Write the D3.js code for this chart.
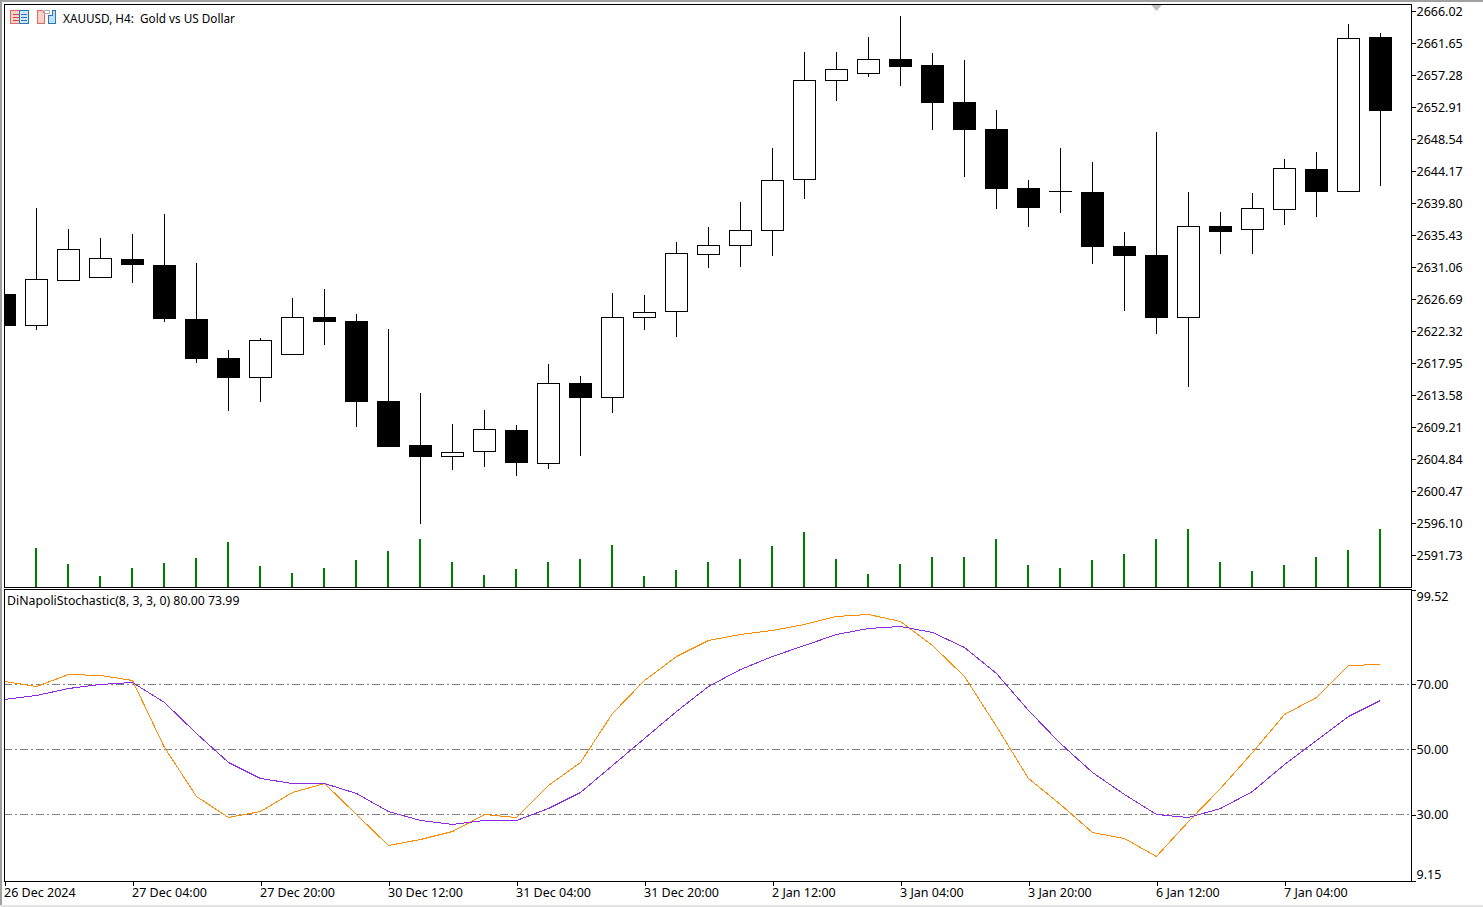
<!DOCTYPE html>
<html>
<head>
<meta charset="utf-8">
<script src="https://cdn.jsdelivr.net/npm/d3@7"></script>
<style>
  html, body { margin: 0; padding: 0; background: #fff; overflow: hidden; }
  svg { display: block; }
  text { font-family: "Noto Sans", sans-serif; font-size: 12.5px; fill: #000; }
</style>
</head>
<body>
<div id="chart"></div>
<script>
let w = 1483;
let h = 907;

// candles, one H4 bar each
let opens = [2627.37,2623.00,2629.15,2629.56,2632.15,2631.33,2623.96,2618.63,2615.90,2619.04,2624.23,2623.68,2612.76,2606.75,2605.11,2605.80,2608.80,2604.16,2615.22,2613.17,2624.09,2624.91,2632.70,2633.93,2635.98,2642.94,2656.46,2657.42,2659.47,2658.65,2653.59,2649.91,2641.85,2641.44,2641.30,2633.93,2632.70,2624.09,2636.66,2636.11,2638.84,2644.44,2641.30,2662.47];
let highs = [2627.37,2639.12,2636.25,2635.02,2635.57,2638.30,2631.61,2619.72,2621.36,2626.82,2628.05,2624.64,2622.59,2613.85,2609.62,2611.53,2609.48,2617.81,2616.17,2627.51,2627.23,2634.47,2636.52,2639.94,2647.31,2660.42,2660.42,2662.47,2665.34,2660.28,2659.33,2652.50,2642.94,2647.31,2645.40,2635.84,2649.50,2641.30,2638.57,2641.16,2645.81,2646.76,2664.24,2663.02];
let lows = [2623.00,2622.46,2629.15,2629.56,2628.87,2623.55,2617.95,2611.39,2612.62,2619.04,2620.41,2609.21,2606.48,2595.96,2603.34,2603.75,2602.52,2603.47,2605.25,2611.12,2622.46,2621.50,2630.92,2631.06,2632.56,2640.35,2653.73,2657.01,2655.78,2649.77,2643.35,2638.98,2636.52,2638.43,2631.47,2625.05,2621.91,2614.67,2632.83,2632.83,2636.79,2637.89,2641.30,2642.12];
let closes = [2623.00,2629.42,2633.52,2632.29,2631.33,2623.96,2618.50,2615.90,2621.09,2624.23,2623.55,2612.62,2606.48,2605.11,2605.80,2608.94,2604.29,2615.22,2613.17,2624.23,2624.91,2632.97,2634.06,2636.11,2642.94,2656.60,2658.10,2659.47,2658.37,2653.46,2649.77,2641.71,2639.12,2641.44,2633.79,2632.56,2624.09,2636.66,2635.84,2639.12,2644.58,2641.30,2662.33,2652.36];
// tick volume, the first bar has none visible
let volumes = [0,39,23,11,19,24,29,45,21,14,19,27,36,48,25,12,18,25,28,42,11,17,25,28,41,55,28,13,23,30,30,48,22,19,27,33,48,58,25,16,22,30,37,58];
// stochastic lines
let mainLine = [70.92,69.39,73.06,72.76,71.23,50.70,35.70,29.27,31.10,36.92,39.68,30.18,20.69,22.53,24.98,30.18,29.27,39.07,46.11,61.12,71.23,78.58,83.48,85.31,86.54,88.38,90.83,91.44,89.30,81.94,72.45,57.14,41.21,33.25,24.67,22.83,17.32,28.04,38.15,49.17,60.81,66.02,75.82,76.13];
let signalLine = [65.41,66.63,68.77,70.00,70.61,64.49,54.99,46.11,41.21,39.68,39.68,36.62,31.10,28.35,27.13,28.35,28.35,32.02,36.92,45.19,53.46,61.73,69.39,74.59,78.58,81.94,85.31,87.15,87.76,85.93,81.33,73.37,62.04,51.93,43.05,36.31,30.18,29.27,32.02,37.23,45.50,52.85,60.20,65.10];

let priceTicks = [2666.02,2661.65,2657.28,2652.91,2648.54,2644.17,2639.80,2635.43,2631.06,2626.69,2622.32,2617.95,2613.58,2609.21,2604.84,2600.47,2596.10,2591.73];
let stochTicks = [99.52,70,50,30,9.15];
let levels = [70,50,30];
let timeTicks = [0,4,8,12,16,20,24,28,32,36,40];
let timeLabels = ["26 Dec 2024","27 Dec 04:00","27 Dec 20:00","30 Dec 12:00","31 Dec 04:00","31 Dec 20:00","2 Jan 12:00","3 Jan 04:00","3 Jan 20:00","6 Jan 12:00","7 Jan 04:00"];

let paneLeft = 4;
let paneRight = 1411;
let paneTop = 4;
let mainBottom = 587;
let subTop = 589;
let subBottom = 881;

let viz = d3.select("#chart")
  .append("svg")
  .attr("width", w)
  .attr("height", h)
  .style("background-color", "#fff");

let xScale = d3.scaleLinear().domain([0, 43]).range([4, 1380]);
let yPrice = d3.scaleLinear().domain([2591.73, 2666.02]).range([555, 11]);
let yVolume = d3.scaleLinear().domain([0, 58]).range([587, 529]);
let yStoch = d3.scaleLinear().domain([9.15, 99.52]).range([882.7, 587.6]);

// snap to the pixel grid like the terminal does
function px(v) { return Math.round(v) + 0.5; }

// window edge
viz.append("rect").attr("x", 0).attr("y", 0).attr("width", 2).attr("height", h).attr("fill", "#a0a0a0");
viz.append("rect").attr("x", 0).attr("y", 0).attr("width", w).attr("height", 2).attr("fill", "#a0a0a0");
viz.append("rect").attr("x", 0).attr("y", 905).attr("width", w).attr("height", 2).attr("fill", "#e3e3e3");

viz.append("clipPath").attr("id", "mainclip").append("rect")
  .attr("x", paneLeft).attr("y", paneTop).attr("width", paneRight - paneLeft).attr("height", mainBottom - paneTop);
viz.append("clipPath").attr("id", "subclip").append("rect")
  .attr("x", paneLeft).attr("y", subTop).attr("width", paneRight - paneLeft).attr("height", subBottom - subTop);

let mainGroup = viz.append("g").attr("clip-path", "url(#mainclip)").attr("shape-rendering", "crispEdges");
let subGroup = viz.append("g").attr("clip-path", "url(#subclip)").attr("shape-rendering", "crispEdges");

// volume
mainGroup.selectAll(".vol").data(volumes).enter()
  .append("line")
  .attr("class", "vol")
  .attr("x1", (d, i) => xScale(i))
  .attr("x2", (d, i) => xScale(i))
  .attr("y1", d => yVolume(0))
  .attr("y2", d => yVolume(d))
  .attr("stroke", "#008000")
  .attr("stroke-width", d => d > 0 ? 2 : 0);

// candles
let candles = opens.map((o, i) => ({ i: i, o: o, h: highs[i], l: lows[i], c: closes[i] }));

mainGroup.selectAll(".wick").data(candles).enter()
  .append("line")
  .attr("class", "wick")
  .attr("x1", d => xScale(d.i) + 0.5)
  .attr("x2", d => xScale(d.i) + 0.5)
  .attr("y1", d => Math.round(yPrice(d.h)))
  .attr("y2", d => Math.round(yPrice(d.l)))
  .attr("stroke", "#000");

mainGroup.selectAll(".body").data(candles.filter(d => d.o !== d.c)).enter()
  .append("rect")
  .attr("class", "body")
  .attr("x", d => xScale(d.i) - 11 + 0.5)
  .attr("width", 22)
  .attr("y", d => px(yPrice(Math.max(d.o, d.c))))
  .attr("height", d => px(yPrice(Math.min(d.o, d.c))) - px(yPrice(Math.max(d.o, d.c))) - 1)
  .attr("fill", d => d.c > d.o ? "#fff" : "#000")
  .attr("stroke", "#000");

// doji has no body, only a dash
mainGroup.selectAll(".doji").data(candles.filter(d => d.o === d.c)).enter()
  .append("line")
  .attr("class", "doji")
  .attr("x1", d => xScale(d.i) - 11)
  .attr("x2", d => xScale(d.i) + 12)
  .attr("y1", d => px(yPrice(d.o)))
  .attr("y2", d => px(yPrice(d.o)))
  .attr("stroke", "#000");

// stochastic levels
subGroup.selectAll(".level").data(levels).enter()
  .append("line")
  .attr("class", "level")
  .attr("x1", paneLeft)
  .attr("x2", paneRight)
  .attr("y1", d => Math.floor(yStoch(d) + 0.2) + 0.5)
  .attr("y2", d => Math.floor(yStoch(d) + 0.2) + 0.5)
  .attr("stroke", "#808080")
  .attr("stroke-dasharray", "8,3,2,3");

let stochLine = d3.line().x((d, i) => xScale(i) + 0.5).y(d => yStoch(d) + 0.5);

subGroup.append("path").datum(mainLine)
  .attr("d", stochLine).attr("fill", "none").attr("stroke", "#ff8c00");
subGroup.append("path").datum(signalLine)
  .attr("d", stochLine).attr("fill", "none").attr("stroke", "#8a2be2");

// frames
[[paneLeft, paneTop, paneRight, mainBottom], [paneLeft, subTop, paneRight, subBottom]].forEach(function(f) {
  viz.append("rect")
    .attr("x", f[0] + 0.5).attr("y", f[1] + 0.5)
    .attr("width", f[2] - f[0]).attr("height", f[3] - f[1])
    .attr("fill", "none").attr("stroke", "#000")
    .attr("shape-rendering", "crispEdges");
});

// axes
let priceAxis = d3.axisRight(yPrice).tickValues(priceTicks).tickSize(4).tickPadding(1)
  .tickFormat(d3.format(".2f"));
let priceGroup = viz.append("g")
  .attr("transform", "translate(" + (paneRight + 0.5) + ",0)")
  .call(priceAxis);

let stochAxis = d3.axisRight(yStoch).tickValues(stochTicks).tickSize(4).tickPadding(1)
  .tickFormat(d3.format(".2f"));
let stochGroup = viz.append("g")
  .attr("transform", "translate(" + (paneRight + 0.5) + ",0)")
  .call(stochAxis);

// top and bottom labels sit inside the pane
stochGroup.selectAll(".tick").each(function(d) {
  if (d === 99.52) {
    d3.select(this).attr("transform", "translate(0,590.5)");
    d3.select(this).select("text").attr("y", 6);
  }
  if (d === 9.15) {
    d3.select(this).attr("transform", "translate(0,881.5)");
    d3.select(this).select("text").attr("y", -7);
  }
  if (d === 70) {
    d3.select(this).select("text").attr("y", 1);
  }
});

let timeAxis = d3.axisBottom(xScale).tickValues(timeTicks).tickSize(4).tickPadding(0)
  .tickFormat((d, i) => timeLabels[i]);
let timeGroup = viz.append("g")
  .attr("transform", "translate(0.5," + (subBottom + 0.5) + ")")
  .call(timeAxis);
timeGroup.selectAll("text").attr("text-anchor", "start").attr("x", -1).attr("y", 7);

[priceGroup, stochGroup, timeGroup].forEach(function(g) {
  g.select(".domain").remove();
  g.selectAll("line").attr("stroke", "#000").attr("shape-rendering", "crispEdges");
  g.attr("font-family", null).attr("font-size", null);
});

// header text
viz.append("text").attr("x", 63).attr("y", 23).style("white-space", "pre").style("font-size", "11.75px").text("XAUUSD, H4:  Gold vs US Dollar");
viz.append("text").attr("x", 7).attr("y", 605).style("font-size", "12.3px").text("DiNapoliStochastic(8, 3, 3, 0) 80.00 73.99");

// one click trading and depth icons
let icons = viz.append("g").attr("shape-rendering", "crispEdges");
icons.append("rect").attr("x", 10.5).attr("y", 10.5).attr("width", 9).attr("height", 13).attr("fill", "#fbd0c8").attr("stroke", "#e06a60");
icons.append("rect").attr("x", 19.5).attr("y", 10.5).attr("width", 9).attr("height", 13).attr("fill", "#cfe6f7").attr("stroke", "#2a7ab8");
[14.5, 17.5, 20.5].forEach(function(y) {
  icons.append("line").attr("x1", 13).attr("x2", 19).attr("y1", y).attr("y2", y).attr("stroke", "#d8483c");
  icons.append("line").attr("x1", 21).attr("x2", 27).attr("y1", y).attr("y2", y).attr("stroke", "#2a7ab8");
});
icons.append("path").attr("d", "M37.5,10.5h5l2,3v10h-7z").attr("fill", "#fbd0c8").attr("stroke", "#e06a60");
icons.append("path").attr("d", "M55.5,10.5h-3v5h-4v8h7z").attr("fill", "#bfe0f7").attr("stroke", "#2a7ab8");
icons.append("rect").attr("x", 44.5).attr("y", 10.5).attr("width", 5).attr("height", 3).attr("fill", "#fff").attr("stroke", "#b0b0b0");

// scroll marker at the top of the chart
viz.append("path").attr("d", "M1151,5h11l-5.5,6z").attr("fill", "#c0c0c0");
</script>
</body>
</html>
